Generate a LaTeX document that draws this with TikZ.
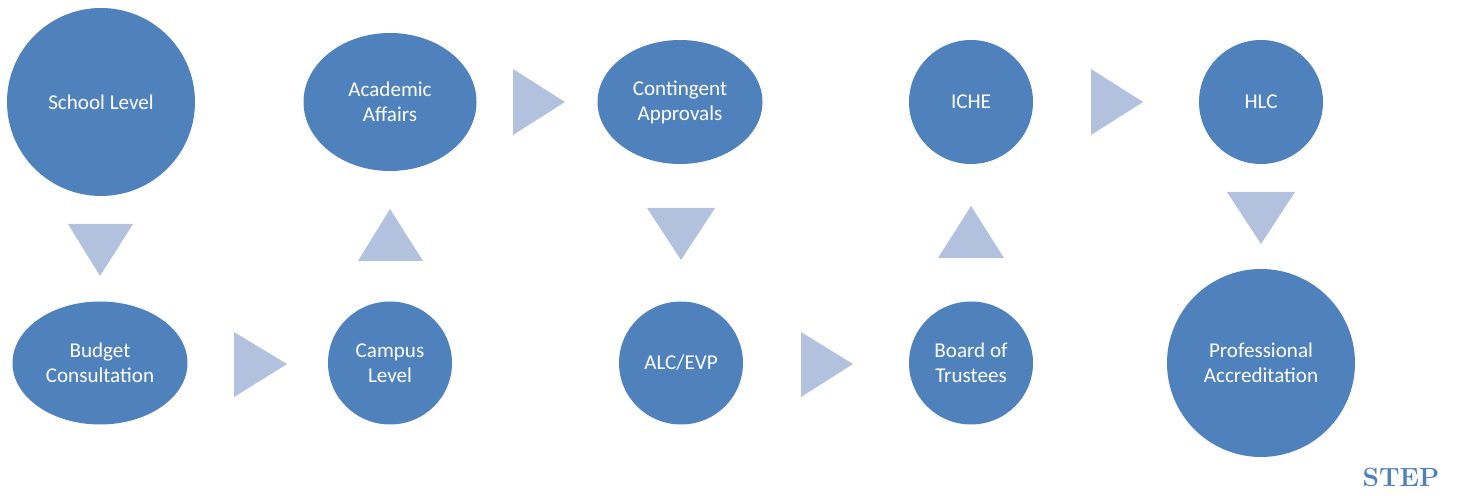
\documentclass[tikz,border=0pt]{standalone}
\usepackage{fontspec}
\newfontfamily\carlito{Carlito}
\usetikzlibrary{shapes.geometric}
\definecolor{nodeblue}{HTML}{4F81BD}
\definecolor{arrowblue}{RGB}{178,193,221}
\definecolor{stepblue}{HTML}{4F81BD}
\newdimen\px \px=0.02cm
\tikzset{
  stage/.style={ellipse, fill=nodeblue, draw=none, inner sep=0pt, text=white,
    align=center, font=\carlito\fontsize{12}{14.2}\selectfont},
  flowtri/.style={fill=arrowblue, draw=none}
}
\begin{document}
\begin{tikzpicture}[x=0.02cm, y=-0.02cm]
\useasboundingbox (0,0) rectangle (1457,496);
% stages
\node[stage, minimum width=188\px, minimum height=188\px] (school) at (101,102) {School Level};
\node[stage, minimum width=175\px, minimum height=123\px] (budget) at (100,363) {Budget\\Consultation};
\node[stage, minimum width=124\px, minimum height=123\px] (campus) at (390,363) {Campus\\Level};
\node[stage, minimum width=173\px, minimum height=138\px] (academic) at (390,102) {Academic\\Affairs};
\node[stage, minimum width=165\px, minimum height=124\px] (contingent) at (680,102) {Contingent\\Approvals};
\node[stage, minimum width=124\px, minimum height=123\px] (alc) at (681,363) {ALC/EVP};
\node[stage, minimum width=124\px, minimum height=123\px] (board) at (971,363) {Board of\\Trustees};
\node[stage, minimum width=124\px, minimum height=124\px] (iche) at (971,102) {ICHE};
\node[stage, minimum width=124\px, minimum height=124\px] (hlc) at (1261,102) {HLC};
\node[stage, minimum width=188\px, minimum height=188\px] (prof) at (1261,363) {Professional\\Accreditation};
% flow triangles
\fill[flowtri] (68,224) -- (133,224) -- (100,276) -- cycle;
\fill[flowtri] (234,332) -- (234,397) -- (287,364) -- cycle;
\fill[flowtri] (358,261) -- (423,261) -- (390,209) -- cycle;
\fill[flowtri] (513,69) -- (513,135) -- (565,102) -- cycle;
\fill[flowtri] (647,208) -- (715,208) -- (681,260) -- cycle;
\fill[flowtri] (801,332) -- (801,397) -- (853,364) -- cycle;
\fill[flowtri] (938,258) -- (1004,258) -- (971,206) -- cycle;
\fill[flowtri] (1091,69) -- (1091,135) -- (1143,102) -- cycle;
\fill[flowtri] (1227,192) -- (1295,192) -- (1261,244) -- cycle;
% label
\node[text=stepblue, font=\bfseries\fontsize{15}{18}\selectfont, inner sep=0pt, anchor=base] (step) at (1401,486) {STEP};
\end{tikzpicture}
\end{document}
